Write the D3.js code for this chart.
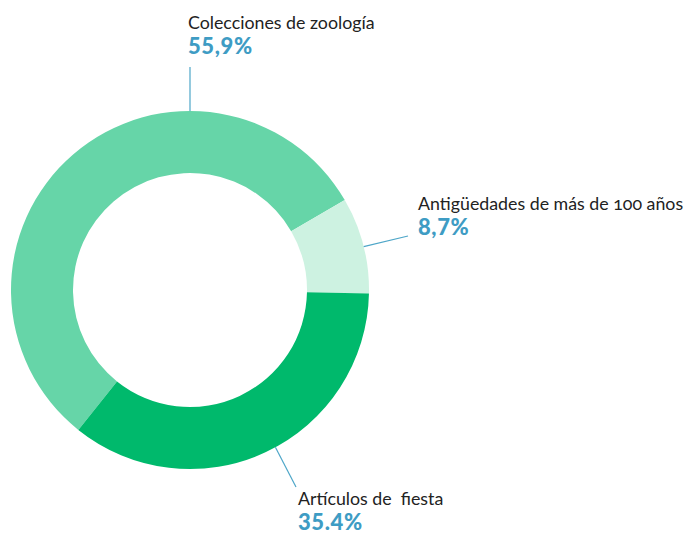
<!DOCTYPE html>
<html>
<head>
<meta charset="utf-8">
<script src="https://cdn.jsdelivr.net/npm/d3@7"></script>
<style>
  body { margin: 0; background: #fff; }
  svg { display: block; font-family: Lato, "Open Sans", sans-serif; }
</style>
</head>
<body>
<div id="chart"></div>
<script>
var width = 686;
var height = 535;

var categories = ["Colecciones de zoología", "Antigüedades de más de 100 años", "Artículos de  fiesta"];
var values = [55.9, 8.7, 35.4];
var valueLabels = ["55,9%", "8,7%", "35.4%"];
var colors = ["#66d5a8", "#cdf2e1", "#00b96c"];

// label layout: leader start angle (deg), leader end, text origin
var labelLayout = [
  { angle: 0, end: [190, 67], text: [188, 29] },
  { angle: 76, end: [408, 236], text: [418, 210] },
  { angle: 151.5, end: [296, 487], text: [298, 505] }
];

function createSVG() {
  return d3.select("#chart")
    .append("svg")
    .attr("width", width)
    .attr("height", height);
}

function drawDonut(svg) {
  var cx = 190, cy = 290;
  var outer = 179, inner = 117;
  var start = -141.4 * Math.PI / 180;

  var pie = d3.pie()
    .sort(null)
    .value(function(d) { return d; })
    .startAngle(start)
    .endAngle(start + 2 * Math.PI);

  var arc = d3.arc().innerRadius(inner).outerRadius(outer);

  var g = svg.append("g").attr("transform", "translate(" + cx + "," + cy + ")");
  g.selectAll("path")
    .data(pie(values))
    .enter()
    .append("path")
    .attr("d", arc)
    .attr("fill", function(d, i) { return colors[i]; });

  // leader lines + labels
  labelLayout.forEach(function(l, i) {
    var a = l.angle * Math.PI / 180;
    var x0 = cx + outer * Math.sin(a);
    var y0 = cy - outer * Math.cos(a);
    svg.append("line")
      .attr("x1", x0).attr("y1", y0)
      .attr("x2", l.end[0]).attr("y2", l.end[1])
      .attr("stroke", "#4ea6c8")
      .attr("stroke-width", 1.2);

    svg.append("text")
      .attr("x", l.text[0]).attr("y", l.text[1])
      .attr("font-size", 17.8)
      .attr("fill", "#222")
      .style("white-space", "pre")
      .style("font-feature-settings", "'onum'")
      .text(categories[i]);

    svg.append("text")
      .attr("x", l.text[0]).attr("y", l.text[1] + 25)
      .attr("font-size", 22)
      .attr("font-weight", 900)
      .attr("letter-spacing", 0.6)
      .attr("fill", "#3e9cc4")
      .text(valueLabels[i]);
  });
}

function main() {
  var svg = createSVG();
  drawDonut(svg);
}

window.onload = function() {
  main();
};
</script>
</body>
</html>
